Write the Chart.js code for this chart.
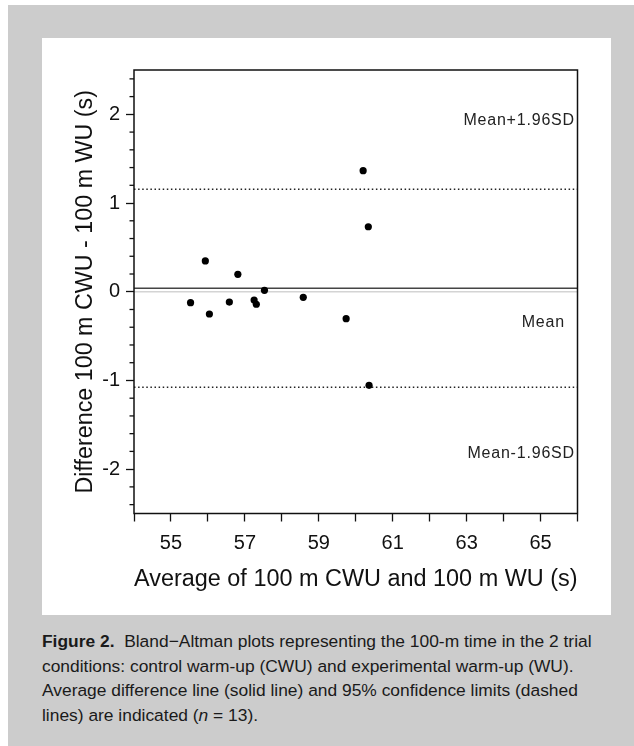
<!DOCTYPE html>
<html>
<head>
<meta charset="utf-8">
<script src="https://cdn.jsdelivr.net/npm/chart.js@4"></script>
<style>
  body { margin: 0; background: #fff; width: 634px; height: 746px; overflow: hidden; position: relative; }
  #frame { position: absolute; left: 8px; top: 5px; width: 626px; height: 741px; background: #cccccc; }
  #panel { position: absolute; left: 42px; top: 38px; width: 569px; height: 577px; background: #fff; }
  #caption {
    position: absolute; left: 42px; top: 629px; width: 585px;
    font-family: "Liberation Sans", Arial, sans-serif; font-size: 17.4px; line-height: 24.5px;
    color: #1a1a1a; white-space: nowrap;
  }
  #caption b { font-weight: bold; }
</style>
</head>
<body>
<div id="frame"></div>
<div id="panel"><canvas id="chart" width="569" height="577"></canvas></div>
<div id="caption">
  <b>Figure 2.</b>&nbsp; Bland−Altman plots representing the 100-m time in the 2 trial<br>
  conditions: control warm-up (CWU) and experimental warm-up (WU).<br>
  Average difference line (solid line) and 95% confidence limits (dashed<br>
  lines) are indicated (<i>n</i> = 13).
</div>
<script>
// average of the two trials (s) and their difference (s)
const avgTime = [55.53, 55.93, 56.04, 56.58, 56.81, 57.25, 57.31, 57.53, 58.58, 59.74, 60.20, 60.34, 60.36];
const diffTime = [-0.123, 0.347, -0.251, -0.116, 0.197, -0.093, -0.141, 0.016, -0.063, -0.304, 1.365, 0.733, -1.055];

// reference lines
const meanDiff = 0.039;
const upperLimit = 1.155;
const lowerLimit = -1.077;
const zeroLine = 0;

// axis ranges and ticks
const xRange = [54, 66];
const yRange = [-2.5, 2.5];
const yTicks = [-2, -1, 0, 1, 2];
const yMinorStep = 0.2;

// line labels (right aligned at x, centred at y)
const labelText = ["Mean+1.96SD", "Mean", "Mean-1.96SD"];
const labelX = [65.93, 65.66, 65.93];
const labelY = [1.925, -0.344, -1.82];

const FONT = '"Liberation Sans", Arial, sans-serif';

function hLine(y) {
  return [{ x: xRange[0], y: y }, { x: xRange[1], y: y }];
}

const points = avgTime.map((x, i) => ({ x: x, y: diffTime[i] }));

const frameAndTicks = {
  id: "frameAndTicks",
  afterDraw(chart) {
    const ctx = chart.ctx;
    const a = chart.chartArea;
    const yScale = chart.scales.y;
    ctx.save();
    ctx.strokeStyle = "#111";
    ctx.lineWidth = 1.5;
    ctx.strokeRect(a.left, a.top, a.right - a.left, a.bottom - a.top);
    // short minor ticks on the y axis between the labelled ones
    ctx.lineWidth = 1.3;
    const n = Math.round((yRange[1] - yRange[0]) / yMinorStep);
    for (let k = 0; k <= n; k++) {
      const v = Math.round((Math.ceil(yRange[0] / yMinorStep) + k) * yMinorStep * 10) / 10;
      if (v > yRange[1] || Math.abs(v - Math.round(v)) < 1e-6) continue;
      const py = yScale.getPixelForValue(v);
      ctx.beginPath();
      ctx.moveTo(a.left - 4.5, py);
      ctx.lineTo(a.left, py);
      ctx.stroke();
    }
    // text next to the lines
    ctx.fillStyle = "#222";
    ctx.font = "16px " + FONT;
    ctx.letterSpacing = "0.8px";
    ctx.textAlign = "right";
    ctx.textBaseline = "middle";
    labelText.forEach((txt, i) => {
      ctx.fillText(txt, chart.scales.x.getPixelForValue(labelX[i]), yScale.getPixelForValue(labelY[i]));
    });
    ctx.restore();
  },
};

const chart = new Chart(document.getElementById("chart"), {
  type: "scatter",
  data: {
    datasets: [
      {
        label: "points",
        data: points,
        backgroundColor: "#000",
        borderWidth: 0,
        pointRadius: 3.6,
        order: 0,
      },
      {
        label: "mean",
        data: hLine(meanDiff),
        showLine: true,
        borderColor: "#444",
        borderWidth: 1.5,
        pointRadius: 0,
        order: 1,
      },
      {
        label: "upper",
        data: hLine(upperLimit),
        showLine: true,
        borderColor: "#222",
        borderWidth: 1.5,
        borderDash: [1.5, 2.6],
        pointRadius: 0,
        order: 1,
      },
      {
        label: "lower",
        data: hLine(lowerLimit),
        showLine: true,
        borderColor: "#222",
        borderWidth: 1.5,
        borderDash: [1.5, 2.6],
        pointRadius: 0,
        order: 1,
      },
      {
        label: "zero",
        data: hLine(zeroLine),
        showLine: true,
        borderColor: "#d4d4d4",
        borderWidth: 1.5,
        pointRadius: 0,
        order: 2,
      },
    ],
  },
  options: {
    responsive: false,
    animation: false,
    devicePixelRatio: 1,
    layout: { padding: { top: 32, right: 33.5, left: 0, bottom: 0 } },
    plugins: {
      legend: { display: false },
      tooltip: { enabled: false },
    },
    scales: {
      x: {
        type: "linear",
        min: xRange[0],
        max: xRange[1],
        border: { display: false },
        grid: { drawOnChartArea: false, drawTicks: true, tickLength: 8, tickColor: "#111", tickWidth: 1.3 },
        ticks: {
          stepSize: 1,
          padding: 10,
          color: "#111",
          font: { family: FONT, size: 20 },
          maxRotation: 0,
          autoSkip: false,
          callback: (v) => (Math.abs(v % 2) === 1 ? String(v) : ""),
        },
        title: {
          display: true,
          text: "Average of 100 m CWU and 100 m WU (s)",
          color: "#111",
          font: { family: FONT, size: 23.5 },
          padding: { top: 0, bottom: 21 },
        },
        afterFit: (s) => { s.height = 101.5; },
      },
      y: {
        type: "linear",
        min: yRange[0],
        max: yRange[1],
        border: { display: false },
        grid: { drawOnChartArea: false, drawTicks: true, tickLength: 8, tickColor: "#111", tickWidth: 1.3 },
        afterBuildTicks: (s) => { s.ticks = yTicks.map((v) => ({ value: v })); },
        ticks: {
          padding: 6,
          color: "#111",
          font: { family: FONT, size: 20 },
          autoSkip: false,
          callback: (v) => String(v),
        },
        title: {
          display: true,
          text: "Difference 100 m CWU - 100 m WU (s)",
          color: "#111",
          font: { family: FONT, size: 23.3 },
          padding: { top: 30, bottom: 0 },
        },
        afterFit: (s) => { s.width = 92; },
      },
    },
  },
  plugins: [frameAndTicks],
});
</script>
</body>
</html>
